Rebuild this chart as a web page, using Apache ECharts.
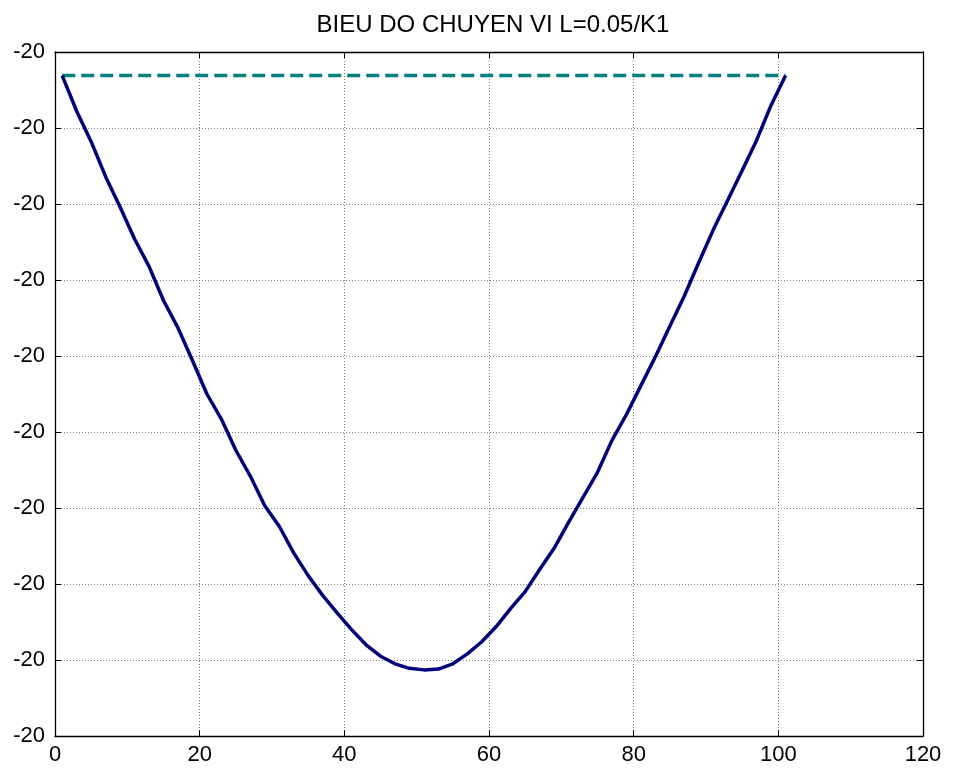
<!DOCTYPE html>
<html>
<head>
<meta charset="utf-8">
<script src="https://cdn.jsdelivr.net/npm/echarts@6/dist/echarts.min.js"></script>
<style>
html,body{margin:0;padding:0;background:#fff;}
#chart{width:955px;height:778px;}
</style>
</head>
<body>
<div id="chart"></div>
<script>
const titleText = "BIEU DO CHUYEN VI L=0.05/K1";
const xTicks = [0, 20, 40, 60, 80, 100, 120];
const yTickLabels = ["-20","-20","-20","-20","-20","-20","-20","-20","-20","-20"];
const curveX = [1,3,5,7,9,11,13,15,17,19,21,23,25,27,29,31,33,35,37,39,41,43,45,47,49,51,53,55,57,59,61,63,65,67,69,71,73,75,77,79,81,83,85,87,89,91,93,95,97,99,101];
const curveY = [8.69,8.22,7.82,7.36,6.96,6.54,6.18,5.73,5.37,4.94,4.50,4.17,3.76,3.42,3.03,2.76,2.41,2.11,1.85,1.62,1.40,1.20,1.05,0.95,0.89,0.87,0.88,0.95,1.08,1.24,1.44,1.68,1.90,2.19,2.47,2.81,3.14,3.47,3.89,4.23,4.61,4.99,5.39,5.79,6.23,6.66,7.05,7.44,7.84,8.30,8.69];
const dashX = [1, 101];
const dashY = [8.69, 8.69];

const curveData = curveX.map((x, i) => [x, curveY[i]]);
const dashData = dashX.map((x, i) => [x, dashY[i]]);

const chart = echarts.init(document.getElementById('chart'), null, {renderer: 'canvas'});
const FONT = 'Liberation Sans, Arial, sans-serif';
const gridLine = {show: true, lineStyle: {color: '#808080', width: 1, type: [1, 2]}};
const tick = {show: true, inside: true, length: 6, lineStyle: {color: '#000', width: 1}};
const axLine = {show: true, onZero: false, lineStyle: {color: '#000', width: 1.3}};

chart.setOption({
  animation: false,
  backgroundColor: '#fff',
  title: {
    text: titleText,
    left: 488, top: 8, textAlign: 'center',
    textStyle: {fontFamily: FONT, fontSize: 24, fontWeight: 'normal', color: '#000'}
  },
  grid: {left: 55, right: 32, top: 52, bottom: 42, containLabel: false},
  xAxis: [
    {
      type: 'value', min: xTicks[0], max: xTicks[xTicks.length - 1], interval: 20,
      position: 'bottom',
      axisLine: axLine, axisTick: tick,
      axisLabel: {show: true, margin: 8, fontFamily: FONT, fontSize: 22, color: '#000'},
      splitLine: gridLine
    },
    {
      type: 'value', min: xTicks[0], max: xTicks[xTicks.length - 1], interval: 20,
      position: 'top',
      axisLine: axLine, axisTick: tick,
      axisLabel: {show: false}, splitLine: {show: false}
    }
  ],
  yAxis: [
    {
      type: 'value', min: 0, max: 9, interval: 1,
      position: 'left',
      axisLine: axLine, axisTick: tick,
      axisLabel: {
        show: true, margin: 10, fontFamily: FONT, fontSize: 22, color: '#000',
        formatter: (v) => yTickLabels[Math.round(v)]
      },
      splitLine: gridLine
    },
    {
      type: 'value', min: 0, max: 9, interval: 1,
      position: 'right',
      axisLine: axLine, axisTick: tick,
      axisLabel: {show: false}, splitLine: {show: false}
    }
  ],
  series: [
    {
      type: 'line', data: dashData, showSymbol: false, symbol: 'none',
      lineStyle: {color: '#008080', width: 3.5, type: [13, 6]}, z: 3
    },
    {
      type: 'line', data: curveData, showSymbol: false, symbol: 'none',
      lineStyle: {color: '#000080', width: 3.5}, z: 4
    }
  ]
});
</script>
</body>
</html>
